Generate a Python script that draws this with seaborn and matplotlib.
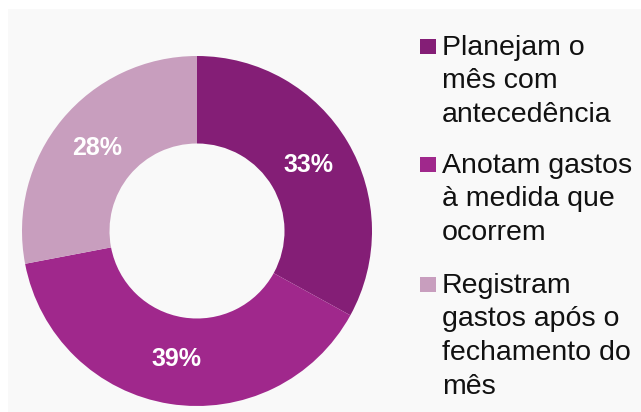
import matplotlib as mpl
import matplotlib.pyplot as plt
import seaborn as sns
from matplotlib.patches import Rectangle

# Data
categories = [
    "Planejam o\nmês com\nantecedência",
    "Anotam gastos\nà medida que\nocorrem",
    "Registram\ngastos após o\nfechamento do\nmês",
]
shares = [33, 39, 28]
colors = ["#841E76", "#A0288C", "#C89EBE"]

sns.set_theme(style="white")
plt.rcParams["font.family"] = ["Liberation Sans", "DejaVu Sans"]

W, H = 641, 412
fig = plt.figure(figsize=(W / 100, H / 100), dpi=100, facecolor="white")

# light grey panel behind everything
fig.patches.append(Rectangle((8 / W, 0), 1 - 8 / W, (H - 9) / H,
                             transform=fig.transFigure, facecolor="#F9F9F9",
                             edgecolor="none", zorder=-10))

# donut axes: center (197, 231), radius 175 px
cx, cy, R = 197, 231, 175
ax = fig.add_axes([(cx - R) / W, (H - cy - R) / H, 2 * R / W, 2 * R / H])
ax.set_facecolor("none")
palette = sns.color_palette(colors)
wedges, texts, autotexts = ax.pie(
    shares, colors=palette, startangle=90, counterclock=False,
    radius=1.0, autopct="%d%%", pctdistance=0.74,
    wedgeprops=dict(width=0.5, edgecolor="none"),
    textprops=dict(color="white", fontsize=18, fontweight="bold"),
)
ax.set_xlim(-1, 1)
ax.set_ylim(-1, 1)
ax.set_aspect("equal")
ax.axis("off")

# legend drawn by hand so the square sits on the first line
baselines = [55, 173, 293]
line_gap = 33.5
for label, col, yb in zip(categories, colors, baselines):
    fig.patches.append(Rectangle((420 / W, (H - yb + 1) / H), 16 / W, 15 / H,
                                 transform=fig.transFigure, facecolor=col,
                                 edgecolor="none", zorder=2))
    for i, line in enumerate(label.split("\n")):
        fig.text(442 / W, (H - yb - i * line_gap) / H, line, fontsize=20.5,
                 color="#111111", va="baseline", ha="left")

fig.savefig("out.png", dpi=100, facecolor="white")
